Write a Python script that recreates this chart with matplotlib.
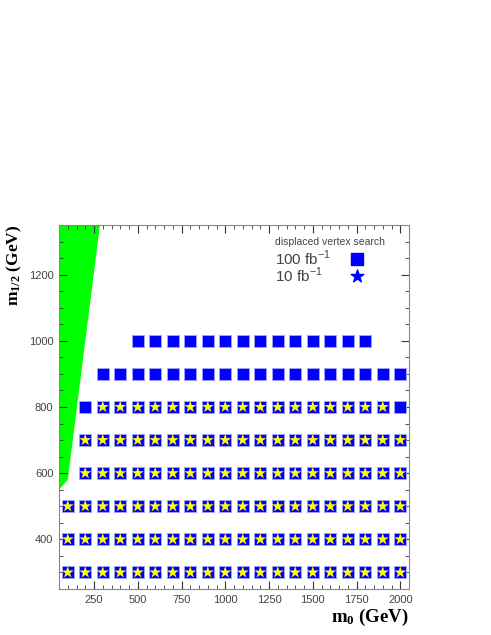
import matplotlib
matplotlib.use('Agg')
import matplotlib.pyplot as plt

plt.rcParams['font.family'] = ['Liberation Sans', 'DejaVu Sans']
plt.rcParams['mathtext.fontset'] = 'custom'
plt.rcParams['mathtext.rm'] = 'Liberation Sans'
plt.rcParams['mathtext.bf'] = 'Liberation Serif:bold'

# excluded region (green)
excl_m0 = [50, 100, 284, 50]
excl_mhalf = [550, 580, 1350, 1350]

# 100 fb^-1 reach (squares), one list of m0 per m1/2 row
sq_300 = [100, 200, 300, 400, 500, 600, 700, 800, 900, 1000, 1100, 1200, 1300, 1400, 1500, 1600, 1700, 1800, 1900, 2000]
sq_400 = [100, 200, 300, 400, 500, 600, 700, 800, 900, 1000, 1100, 1200, 1300, 1400, 1500, 1600, 1700, 1800, 1900, 2000]
sq_500 = [100, 200, 300, 400, 500, 600, 700, 800, 900, 1000, 1100, 1200, 1300, 1400, 1500, 1600, 1700, 1800, 1900, 2000]
sq_600 = [200, 300, 400, 500, 600, 700, 800, 900, 1000, 1100, 1200, 1300, 1400, 1500, 1600, 1700, 1800, 1900, 2000]
sq_700 = [200, 300, 400, 500, 600, 700, 800, 900, 1000, 1100, 1200, 1300, 1400, 1500, 1600, 1700, 1800, 1900, 2000]
sq_800 = [200, 300, 400, 500, 600, 700, 800, 900, 1000, 1100, 1200, 1300, 1400, 1500, 1600, 1700, 1800, 1900, 2000]
sq_900 = [300, 400, 500, 600, 700, 800, 900, 1000, 1100, 1200, 1300, 1400, 1500, 1600, 1700, 1800, 1900, 2000]
sq_1000 = [500, 600, 700, 800, 900, 1000, 1100, 1200, 1300, 1400, 1500, 1600, 1700, 1800]

# 10 fb^-1 reach (stars)
st_300 = [100, 200, 300, 400, 500, 600, 700, 800, 900, 1000, 1100, 1200, 1300, 1400, 1500, 1600, 1700, 1800, 1900, 2000]
st_400 = [100, 200, 300, 400, 500, 600, 700, 800, 900, 1000, 1100, 1200, 1300, 1400, 1500, 1600, 1700, 1800, 1900, 2000]
st_500 = [100, 200, 300, 400, 500, 600, 700, 800, 900, 1000, 1100, 1200, 1300, 1400, 1500, 1600, 1700, 1800, 1900, 2000]
st_600 = [200, 300, 400, 500, 600, 700, 800, 900, 1000, 1100, 1200, 1300, 1400, 1500, 1600, 1700, 1800, 1900, 2000]
st_700 = [200, 300, 400, 500, 600, 700, 800, 900, 1000, 1100, 1200, 1300, 1400, 1500, 1600, 1700, 1800, 1900, 2000]
st_800 = [300, 400, 500, 600, 700, 800, 900, 1000, 1100, 1200, 1300, 1400, 1500, 1600, 1700, 1800, 1900]

squares = {300: sq_300, 400: sq_400, 500: sq_500, 600: sq_600, 700: sq_700,
           800: sq_800, 900: sq_900, 1000: sq_1000}
stars = {300: st_300, 400: st_400, 500: st_500, 600: st_600, 700: st_700, 800: st_800}

legend_title = 'displaced vertex search'
legend_labels = ['100 fb$^{-1}$', '10 fb$^{-1}$']

fig = plt.figure(figsize=(4.91, 6.35), dpi=100)
ax = fig.add_axes([59/491, 1 - 589/635, 350/491, 364/635])

ax.fill(excl_m0, excl_mhalf, color='#00ff00', lw=0, zorder=1)

sx, sy = [], []
for mh, xs in squares.items():
    sx += xs
    sy += [mh] * len(xs)
tx, ty = [], []
for mh, xs in stars.items():
    tx += xs
    ty += [mh] * len(xs)

ax.scatter(sx, sy, marker='s', s=68, c='#0000ff', edgecolors='#a0a0ff', linewidths=0.7, zorder=3)
ax.scatter(tx, ty, marker='*', s=82, c='#ffff00', edgecolors='none', zorder=4)

# hand-made legend
tc = '#444444'
ax.text(0.617, 0.953, legend_title, transform=ax.transAxes, fontsize=7.5, color=tc, va='center')
ax.text(0.617, 0.909, legend_labels[0], transform=ax.transAxes, fontsize=11, color=tc, va='center')
ax.text(0.617, 0.861, legend_labels[1], transform=ax.transAxes, fontsize=11, color=tc, va='center')
ax.scatter([0.851], [0.906], marker='s', s=85, c='#0000ff', transform=ax.transAxes, zorder=5)
ax.scatter([0.851], [0.861], marker='*', s=90, c='#0000ff', transform=ax.transAxes, zorder=5)

ax.set_xlim(50, 2050)
ax.set_ylim(250, 1350)
ax.set_xticks([250, 500, 750, 1000, 1250, 1500, 1750, 2000])
ax.set_xticks(range(100, 2050, 50), minor=True)
ax.set_yticks([400, 600, 800, 1000, 1200])
ax.set_yticks(range(300, 1350, 50), minor=True)
ax.tick_params(which='both', direction='in', top=True, right=True, color='#333333',
               labelsize=8, labelcolor='#444444', pad=4)
ax.tick_params(which='major', length=6)
ax.tick_params(which='minor', length=3)
for sp in ax.spines.values():
    sp.set_color('#888888')

fig.text(409/491, 1 - 617/635, r'$\mathbf{m_0}$ (GeV)', ha='right', va='center',
         family='Liberation Serif', weight='bold', fontsize=13.5)
fig.text(14/491, 1 - 225/635, r'$\mathbf{m_{1/2}}$ (GeV)', ha='center', va='top', rotation=90,
         family='Liberation Serif', weight='bold', fontsize=12.5)

fig.savefig('out.png', dpi=100)
